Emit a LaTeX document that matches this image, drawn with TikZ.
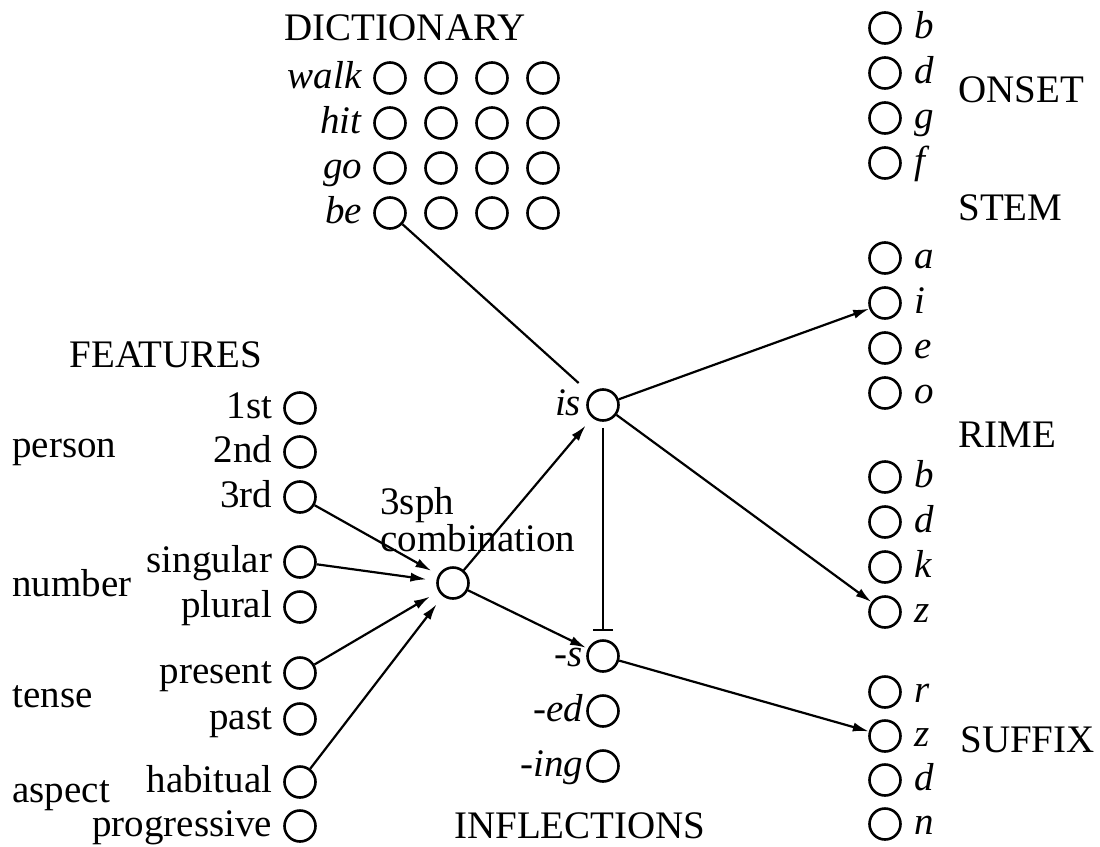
\documentclass[tikz,border=0pt]{standalone}
\usepackage{fontspec}
\setmainfont{Liberation Serif}
\usepackage{tikz}
\usetikzlibrary{positioning,arrows.meta}

\begin{document}
\begin{tikzpicture}[
  x=0.5pt, y=-0.5pt,
  font=\fontsize{19.5}{22}\selectfont,
  unit/.style={draw, circle, minimum size=15.5pt, inner sep=0pt, line width=1.3pt},
  every label/.style={text height=14pt, text depth=4pt},
  head/.style={inner sep=0pt},
  grp/.style={anchor=west, inner sep=0pt},
  conn/.style={line width=1.1pt, -{Latex[length=8pt,width=4.6pt]}},
  link/.style={line width=1.1pt},
]
\useasboundingbox (0,0) rectangle (1100,847);

\node[head] (dict) at (405,28) {DICTIONARY};
\foreach \w [count=\r] in {walk,hit,go,be} {
  \node[unit, label={[label distance=2pt]left:{\textit{\w}}}] (d-\r-1) at (390,78+45*\r-45) {};
  \foreach \c in {2,3,4}
    \node[unit] (d-\r-\c) at (390+51*\c-51,78+45*\r-45) {};
}

\node[head] (feat) at (166,355) {FEATURES};
\foreach \n/\t/\y in {f1/1st/408, f2/2nd/452, f3/3rd/497, sg/singular/562, pl/plural/607,
                      pres/present/673, past/past/719, hab/habitual/782, prog/progressive/826}
  \node[unit, label={[label distance=2pt]left:{\t}}] (\n) at (300,\y) {};
\node[grp] (person) at (12,452) {person};
\node[grp] (number) at (12,583) {number};
\node[grp] (tense) at (12,697) {tense};
\node[grp] (aspect) at (12,796) {aspect};

\node[unit] (comb) at (453,583) {};
\node[anchor=west, inner sep=0pt, align=left, font=\fontsize{19.5}{18.5}\selectfont] (combtext) at (380,520) {3sph\\combination};

\node[unit, label={[label distance=-1pt]left:{\textit{is}}}] (is) at (603,405) {};
\node[unit, label={[label distance=-2pt]left:{\textit{-s}}}] (ss) at (603,656) {};
\node[unit, label={[label distance=-2pt]left:{\textit{-ed}}}] (ed) at (603,711) {};
\node[unit, label={[label distance=-2pt]left:{\textit{-ing}}}] (ing) at (603,766) {};
\node[head] (infl) at (580,826) {INFLECTIONS};

\foreach \l [count=\i] in {b,d,g,f}
  \node[unit, label={[label distance=3pt]right:{\textit{\l}}}] (on\i) at (885,28+45*\i-45) {};
\foreach \l [count=\i] in {a,i,e,o}
  \node[unit, label={[label distance=3pt]right:{\textit{\l}}}] (st\i) at (885,258+45*\i-45) {};
\foreach \l [count=\i] in {b,d,k,z}
  \node[unit, label={[label distance=3pt]right:{\textit{\l}}}] (ri\i) at (885,477+45*\i-45) {};
\foreach \l [count=\i] in {r,z,d,n}
  \node[unit, label={[label distance=3pt]right:{\textit{\l}}}] (su\i) at (885,692+44*\i-44) {};
\node[grp] (onset) at (958,90) {ONSET};
\node[grp] (stem) at (958,208) {STEM};
\node[grp] (rime) at (958,435) {RIME};
\node[grp] (suffix) at (960,740) {SUFFIX};

\draw[conn, shorten >=4pt] (f3) -- (comb);
\draw[conn, shorten >=5pt] (sg) -- (comb);
\draw[conn, shorten >=5pt] (pres) -- (comb);
\draw[conn, shorten >=5pt] (hab) -- (comb);
\draw[conn, shorten >=5pt] (comb) -- (is);
\draw[conn, shorten >=1pt] (comb) -- (ss);
\draw[link, shorten >=8pt] (d-4-1) -- (is);
\draw[conn] (is) -- (st2);
\draw[conn] (is) -- (ri4);
\draw[link, -{Bar[width=10pt]}, shorten <=3pt, shorten >=4pt] (is) -- (ss);
\draw[conn] (ss) -- (su2);
\end{tikzpicture}
\end{document}
